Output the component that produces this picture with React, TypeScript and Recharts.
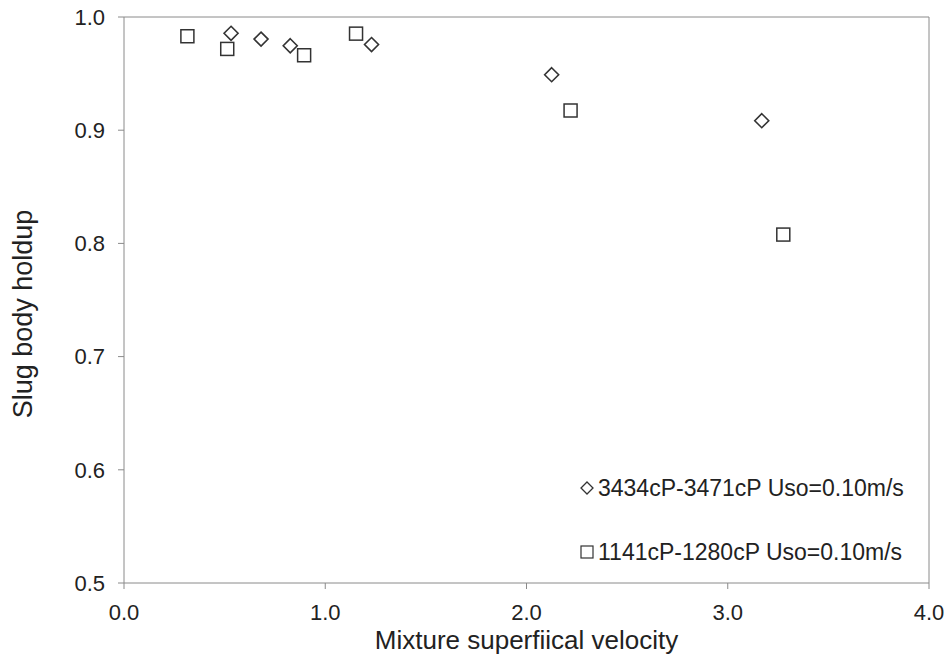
import { ScatterChart, Scatter, XAxis, YAxis, ReferenceLine } from 'recharts';

const heavyX = [0.532, 0.681, 0.826, 1.23, 2.125, 3.169];
const heavyY = [0.9856, 0.9805, 0.9746, 0.9757, 0.949, 0.9084];
const lightX = [0.315, 0.513, 0.895, 1.153, 2.219, 3.276];
const lightY = [0.983, 0.9718, 0.9662, 0.9853, 0.9174, 0.8078];

const xTicks = [0, 1, 2, 3, 4];
const yTicks = [0.5, 0.6, 0.7, 0.8, 0.9, 1.0];

const heavyName = '3434cP-3471cP Uso=0.10m/s';
const lightName = '1141cP-1280cP Uso=0.10m/s';

const FONT = 'Liberation Sans, Arial, sans-serif';
const INK = '#333';
const AXIS = '#8a8a8a';

const heavy = heavyX.map((x, i) => ({ x, y: heavyY[i] }));
const light = lightX.map((x, i) => ({ x, y: lightY[i] }));

const Diamond = (props: any) => {
  const { cx, cy } = props;
  const r = 7;
  return (
    <polygon
      points={`${cx},${cy - r} ${cx + r},${cy} ${cx},${cy + r} ${cx - r},${cy}`}
      fill="none"
      stroke={INK}
      strokeWidth={1.6}
    />
  );
};

const Square = (props: any) => {
  const { cx, cy } = props;
  return <rect x={cx - 6.5} y={cy - 6.5} width={13} height={13} fill="none" stroke={INK} strokeWidth={1.5} />;
};

// legend sits inside the plot, bottom right
const LegendBox = () => (
  <div style={{ position: 'absolute', left: 579, top: 475, fontFamily: FONT, fontSize: 23, color: '#222', lineHeight: '26px' }}>
    <div style={{ display: 'flex', alignItems: 'center', height: 26 }}>
      <svg width={16} height={16} style={{ marginRight: 3 }}>
        <polygon points="8,2 14,8 8,14 2,8" fill="none" stroke={INK} strokeWidth={1.3} />
      </svg>
      {heavyName}
    </div>
    <div style={{ display: 'flex', alignItems: 'center', height: 26, marginTop: 38 }}>
      <svg width={16} height={16} style={{ marginRight: 3 }}>
        <rect x={2} y={2} width={12} height={12} fill="none" stroke={INK} strokeWidth={1.2} />
      </svg>
      {lightName}
    </div>
  </div>
);

export default function App() {
  return (
    <div style={{ position: 'absolute', left: 0, top: 0, width: 947, height: 659, background: '#fff' }}>
      <ScatterChart width={947} height={659} margin={{ top: 17, right: 18, bottom: 0, left: 0 }}>
        <XAxis
          type="number"
          dataKey="x"
          domain={[0, 4]}
          ticks={xTicks}
          tickFormatter={(v: number) => v.toFixed(1)}
          height={76}
          stroke={AXIS}
          tickSize={6}
          tickMargin={15}
          tick={{ fill: '#222', fontSize: 22, fontFamily: FONT }}
          label={{ value: 'Mixture superfiical velocity', position: 'insideBottom', offset: 10, fill: '#222', fontSize: 26, fontFamily: FONT }}
        />
        <YAxis
          type="number"
          dataKey="y"
          domain={[0.5, 1.0]}
          ticks={yTicks}
          tickFormatter={(v: number) => v.toFixed(1)}
          width={124}
          stroke={AXIS}
          tickSize={6}
          tickMargin={13}
          tick={{ fill: '#222', fontSize: 22, fontFamily: FONT }}
          label={{
            content: ({ viewBox }: any) => {
              const x = 32;
              const y = viewBox.y + viewBox.height / 2 + 14;
              return (
                <text x={x} y={y} transform={`rotate(-90, ${x}, ${y})`} textAnchor="middle" fill="#222" fontSize={27} fontFamily={FONT}>
                  Slug body holdup
                </text>
              );
            },
          }}
        />
        <ReferenceLine y={1.0} stroke={AXIS} strokeWidth={1} ifOverflow="visible" />
        <ReferenceLine x={4} stroke={AXIS} strokeWidth={1} ifOverflow="visible" />
        <Scatter name={heavyName} data={heavy} shape={<Diamond />} isAnimationActive={false} />
        <Scatter name={lightName} data={light} shape={<Square />} isAnimationActive={false} />
      </ScatterChart>
      <LegendBox />
    </div>
  );
}
